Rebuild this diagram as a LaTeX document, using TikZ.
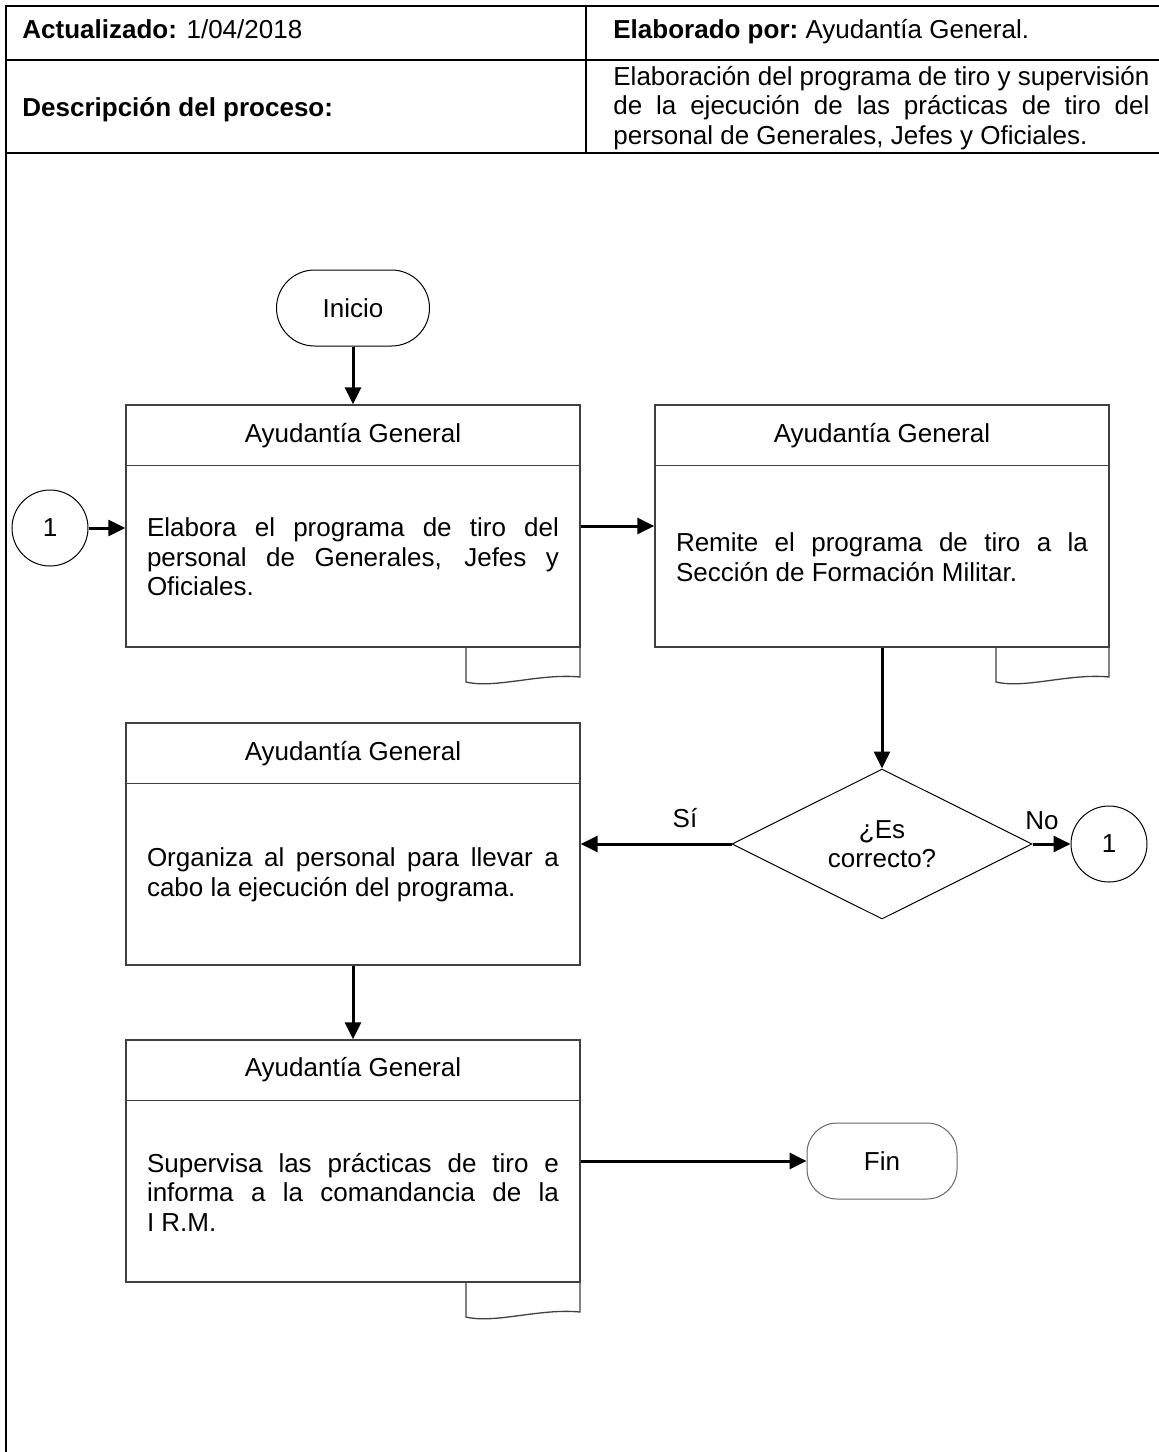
\documentclass[tikz,border=0pt]{standalone}
\usepackage{fontspec}
\setmainfont{Liberation Sans}
\usetikzlibrary{shapes.geometric,arrows.meta,calc}
\newcommand{\diafont}{\fontsize{13pt}{14.75pt}\selectfont}
\begin{document}
\hyphenpenalty=10000
\exhyphenpenalty=10000
\begin{tikzpicture}[x=0.5pt,y=-0.5pt,
  every node/.style={font=\diafont, inner sep=0pt},
  box/.style={draw=black!75, line width=0.65pt, minimum width=227pt, minimum height=121pt},
  body/.style={text width=206pt, align=justify},
  conn/.style={line width=1.5pt, -{Triangle[length=8.5pt,width=8pt]}},
  tbl/.style={line width=1pt},
  term/.style={draw, line width=0.5pt, minimum width=76.5pt, minimum height=38pt, rounded corners=19pt},
  termend/.style={draw=black!60, line width=0.5pt, minimum width=75pt, minimum height=38pt, rounded corners=15pt},
  conector/.style={circle, draw, line width=0.5pt, minimum size=38pt},
  decision/.style={diamond, draw, line width=0.5pt, minimum width=150pt, minimum height=75pt, aspect=2, align=center},
  docsym/.style={draw=black!75, line width=0.65pt},
  hdrline/.style={draw=black!75, line width=0.65pt},
]
\useasboundingbox (0,0) rectangle (1159,1452);

% header table
\draw[tbl] (6,1452) -- (6,6) -- (1165,6);
\draw[tbl] (6,60) -- (1165,60);
\draw[tbl] (6,153) -- (1165,153);
\draw[tbl] (586,6) -- (586,153);

\node[anchor=base west] (act) at (22,38) {\textbf{Actualizado:} 1/04/2018};
\node[anchor=base west] (elab) at (613,38) {\textbf{Elaborado por:}~Ayudantía General.};
\node[anchor=base west] (desc) at (22,116) {\textbf{Descripción del proceso:}};
\node[anchor=west, text width=268pt, align=justify] (desctxt) at (613,108)
  {Elaboración del programa de tiro y supervisión\linebreak de la ejecución de las prácticas de tiro del\linebreak personal de Generales, Jefes y Oficiales.};

% terminals
\node[term] (inicio) at (353,308) {Inicio};
\node[termend] (fin) at (882,1161) {Fin};

% boxes
\node[box] (box1) at (353,526) {};
\node[box] (box2) at (882,526) {};
\node[box] (box3) at (353,844) {};
\node[box] (box4) at (353,1161) {};

\foreach \b in {box1,box2,box3,box4}{
  \draw[hdrline] ($(\b.north west)+(0,61)$) -- ($(\b.north east)+(0,61)$);
}

\node (h1) at (353,436) {Ayudantía General};
\node (h2) at (882,436) {Ayudantía General};
\node (h3) at (353,754) {Ayudantía General};
\node (h4) at (353,1070) {Ayudantía General};

\node[body] (t1) at (353,557) {Elabora el programa de tiro del\linebreak personal de Generales, Jefes y\linebreak Oficiales.};
\node[body] (t2) at (882,557) {Remite el programa de tiro a la\linebreak Sección de Formación Militar.};
\node[body] (t3) at (353,875) {Organiza al personal para llevar a\linebreak cabo la ejecución del programa.};
\node[body] (t4) at (353,1192) {Supervisa las prácticas de tiro e\linebreak informa a la comandancia de la\linebreak I R.M.};

% document symbols
\draw[docsym] (466,647) -- (466,682) .. controls (495,689) and (540,673) .. (580,677) -- (580,647);
\draw[docsym] (996,647) -- (996,682) .. controls (1025,689) and (1070,673) .. (1109,677) -- (1109,647);
\draw[docsym] (466,1282.5) -- (466,1317) .. controls (495,1324) and (540,1308) .. (580,1312) -- (580,1282.5);

% decision and connectors
\node[decision] (dec) at (882,844) {¿Es\\correcto?};
\node[conector] (c1) at (50,528) {1};
\node[conector] (c2) at (1109,844) {1};

\node (si) at (685,818) {Sí};
\node (no) at (1042,821) {No};

% arrows
\draw[conn] (inicio) -- (box1);
\draw[conn] (c1.east) -- (c1.east -| box1.west);
\draw[conn] (box1) -- (box2);
\draw[conn] (box2) -- (dec);
\draw[conn] (dec) -- (box3);
\draw[conn] (dec) -- (c2);
\draw[conn] (box3) -- (box4);
\draw[conn] (box4) -- (fin);
\end{tikzpicture}
\end{document}
